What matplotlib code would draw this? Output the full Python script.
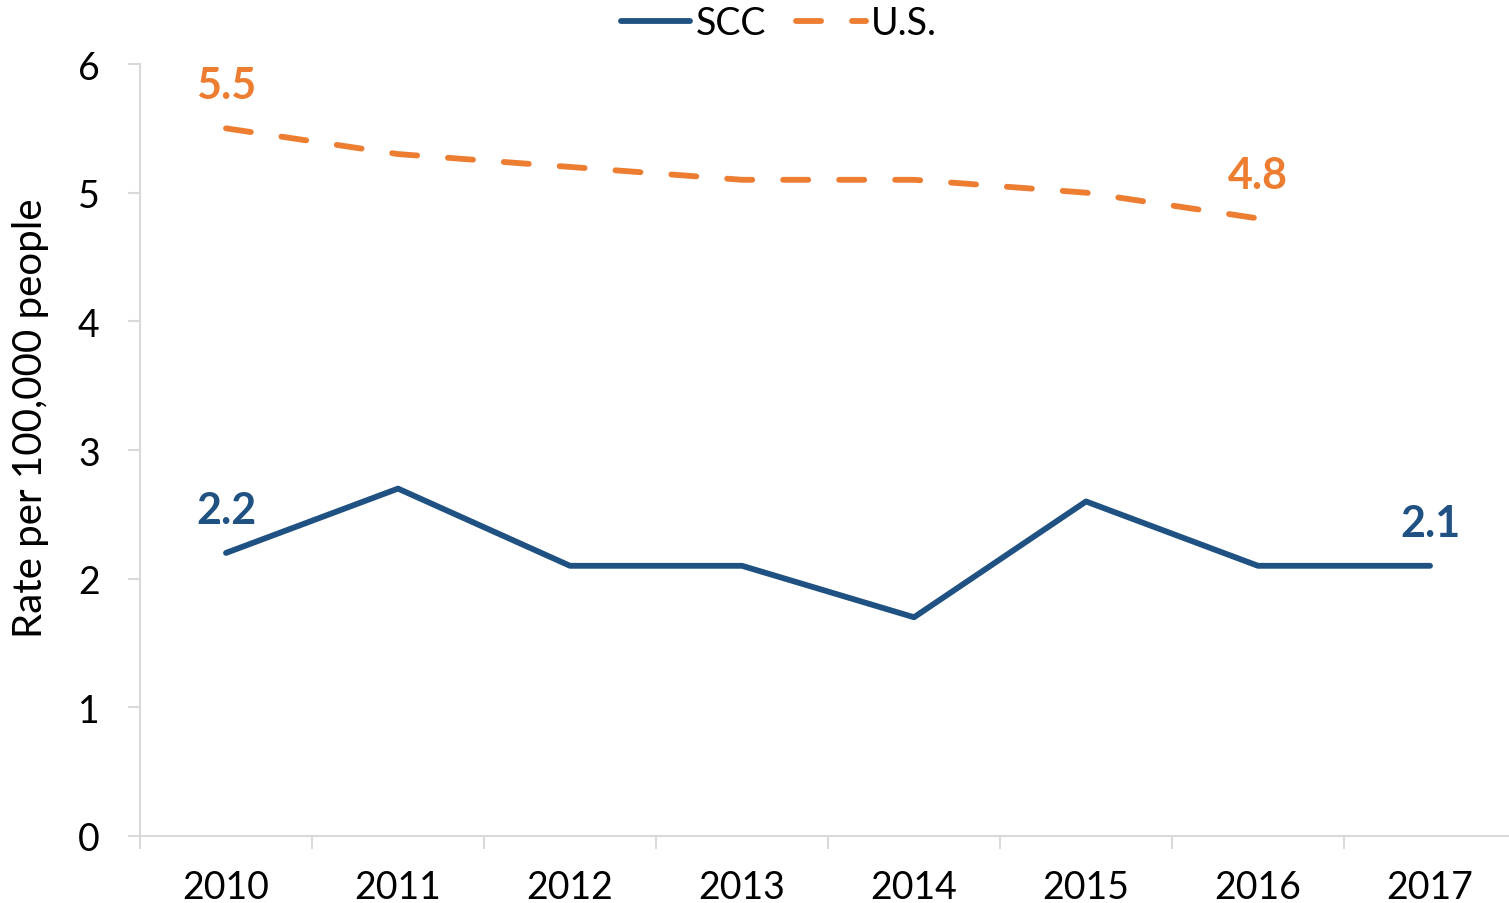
import matplotlib
matplotlib.use("Agg")
import matplotlib.pyplot as plt

years = ["2010", "2011", "2012", "2013", "2014", "2015", "2016", "2017"]
scc = [2.2, 2.7, 2.1, 2.1, 1.7, 2.6, 2.1, 2.1]
us = [5.5, 5.3, 5.2, 5.1, 5.1, 5.0, 4.8, None]
yticks = [0, 1, 2, 3, 4, 5, 6]

blue = "#1F5182"
orange = "#ED7D31"
grey = "#D9D9D9"

plt.rcParams['font.family'] = ['Lato', 'DejaVu Sans']

fig = plt.figure(figsize=(15.09, 9.04), dpi=100)
ax = fig.add_axes([140/1509, 1-837/904, 1376/1509, (837-65)/904])

x = list(range(len(years)))
ax.plot(x, scc, color=blue, lw=4.2, solid_capstyle='round', solid_joinstyle='round', label="SCC")
us_x = [i for i, v in zip(x, us) if v is not None]
us_y = [v for v in us if v is not None]
ax.plot(us_x, us_y, color=orange, lw=4.2, linestyle=(0, (4.3, 5.3)), dash_capstyle='round', label="U.S.")

def lab(i, v, c):
    ax.annotate(f"{v:.1f}", (i, v), xytext=(0, 31), textcoords='offset points',
                ha='center', va='center', color=c, fontsize=31, fontweight='bold')

lab(0, us[0], orange)
lab(6, us[6], orange)
lab(0, scc[0], blue)
lab(7, scc[7], blue)

ax.set_xlim(-0.5, len(years) - 0.5)
ax.set_ylim(0, 6)
ax.set_yticks(yticks)
ax.set_yticklabels([str(t) for t in yticks], fontsize=27)
ax.set_xticks(x)
ax.set_xticklabels(years, fontsize=27)
ax.set_xticks([i - 0.5 for i in range(len(years) + 1)], minor=True)
ax.tick_params(axis='x', which='major', length=0, pad=24)
ax.tick_params(axis='x', which='minor', length=9, width=1.5, color=grey)
ax.tick_params(axis='y', length=9, width=1.5, color=grey, pad=20)
for s in ['top', 'right']:
    ax.spines[s].set_visible(False)
for s in ['left', 'bottom']:
    ax.spines[s].set_color(grey)
    ax.spines[s].set_linewidth(1.5)

ax.set_ylabel("Rate per 100,000 people", fontsize=29)
ax.yaxis.set_label_coords(-0.066, (837-418)/772)

leg = fig.legend(loc='center', bbox_to_anchor=(779/1509, 1-24/904), ncol=2, frameon=False,
                 fontsize=27, handlelength=1.85, handletextpad=0.15, columnspacing=0.8)

fig.savefig("out.png", dpi=100)
